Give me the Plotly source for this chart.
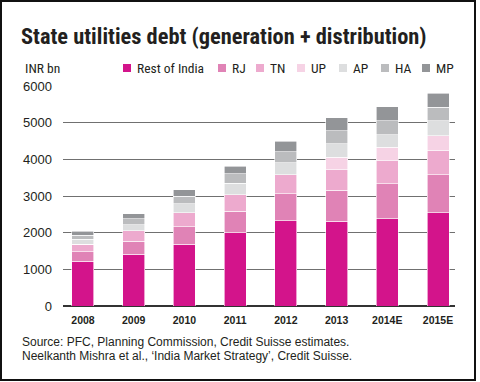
import plotly.graph_objects as go

years = ["2008", "2009", "2010", "2011", "2012", "2013", "2014E", "2015E"]
series_names = ["Rest of India", "RJ", "TN", "UP", "AP", "HA", "MP"]
rest_of_india = [1224, 1414, 1686, 1996, 2331, 2312, 2377, 2540]
rj = [256, 354, 474, 588, 730, 843, 960, 1042]
tn = [198, 290, 380, 454, 515, 563, 626, 661]
up = [0, 0, 0, 0, 0, 335, 372, 400]
ap = [136, 163, 245, 308, 326, 372, 335, 408]
ha = [109, 155, 207, 263, 300, 354, 381, 372]
mp = [117, 136, 181, 209, 288, 362, 389, 381]
y_ticks = [0, 1000, 2000, 3000, 4000, 5000, 6000]

series_values = [rest_of_india, rj, tn, up, ap, ha, mp]
colors = ["#D3148B", "#E083B6", "#EDAACE", "#F6D3E5", "#DDDEDF", "#BBBCBE", "#939598"]

W, H = 480, 382
L, R, T, B = 63, 25, 86, 76
PW, PH = W - L - R, H - T - B


def px2x(px):
    return (px - L) / PW


def py2y(py):
    return (H - B - py) / PH


COND = "Liberation Sans Narrow, Roboto Condensed, Liberation Sans, Arial, sans-serif"
SANS = "Liberation Sans, Arial, sans-serif"

fig = go.Figure()
for name, vals, col in zip(series_names, series_values, colors):
    fig.add_trace(go.Bar(
        x=list(range(len(years))), y=vals, name=name,
        marker=dict(color=col, line=dict(color="white", width=0.6)),
        showlegend=False,
    ))

# manual legend
legend_sq = [127, 222, 260, 301, 343, 385, 426]
legend_y = 68
shapes = []
annotations = []
for name, col, cx in zip(series_names, colors, legend_sq):
    shapes.append(dict(type="rect", xref="paper", yref="paper",
                       x0=px2x(cx - 4), x1=px2x(cx + 4),
                       y0=py2y(legend_y + 4), y1=py2y(legend_y - 4),
                       fillcolor=col, line=dict(width=0)))
    annotations.append(dict(text=name, xref="paper", yref="paper",
                            x=px2x(cx + 8), y=py2y(legend_y), xanchor="left", yanchor="middle",
                            showarrow=False, font=dict(family=COND, size=13.5, color="#231F20")))

# frame
shapes.append(dict(type="rect", xref="paper", yref="paper",
                   x0=px2x(1), x1=px2x(475), y0=py2y(1), y1=py2y(380),
                   line=dict(color="#111111", width=2), fillcolor="rgba(0,0,0,0)", layer="below"))

annotations.append(dict(text="<b>State utilities debt (generation + distribution)</b>",
                        xref="paper", yref="paper", x=px2x(19), y=py2y(36),
                        xanchor="left", yanchor="middle", showarrow=False,
                        font=dict(family=COND, size=22.4, color="#231F20")))
annotations.append(dict(text="INR bn", xref="paper", yref="paper", x=px2x(23), y=py2y(68),
                        xanchor="left", yanchor="middle", showarrow=False,
                        font=dict(family=COND, size=13.5, color="#231F20")))
annotations.append(dict(text="Source: PFC, Planning Commission, Credit Suisse estimates.",
                        xref="paper", yref="paper", x=px2x(20), y=py2y(342),
                        xanchor="left", yanchor="middle", showarrow=False,
                        font=dict(family=SANS, size=12, color="#231F20")))
annotations.append(dict(text="Neelkanth Mishra et al., \u2018India Market Strategy\u2019, Credit Suisse.",
                        xref="paper", yref="paper", x=px2x(20), y=py2y(356),
                        xanchor="left", yanchor="middle", showarrow=False,
                        font=dict(family=SANS, size=12, color="#231F20")))

fig.update_layout(
    width=W, height=H,
    margin=dict(l=L, r=R, t=T, b=B, pad=0),
    paper_bgcolor="white", plot_bgcolor="white",
    barmode="stack", bargap=0.566,
    shapes=shapes, annotations=annotations,
    xaxis=dict(
        range=[-0.394, 7.335], tickmode="array", tickvals=list(range(len(years))), ticktext=years,
        showgrid=False, zeroline=False, showline=False, ticks="",
        tickfont=dict(family=SANS, size=10.5, color="#231F20", weight="bold"),
        ticklabelstandoff=6,
    ),
    yaxis=dict(
        range=[0, 6000], tickvals=y_ticks, showgrid=True, gridcolor="#707070", gridwidth=1,
        zeroline=True, zerolinecolor="#333333", zerolinewidth=2,
        ticks="", tickfont=dict(family=SANS, size=13, color="#231F20"),
        ticklabelstandoff=10, showline=False,
    ),
    font=dict(family=SANS),
)

fig.write_html("out.html", config={"displayModeBar": False},
               post_script="document.body.style.margin='0';document.body.style.padding='0';")
